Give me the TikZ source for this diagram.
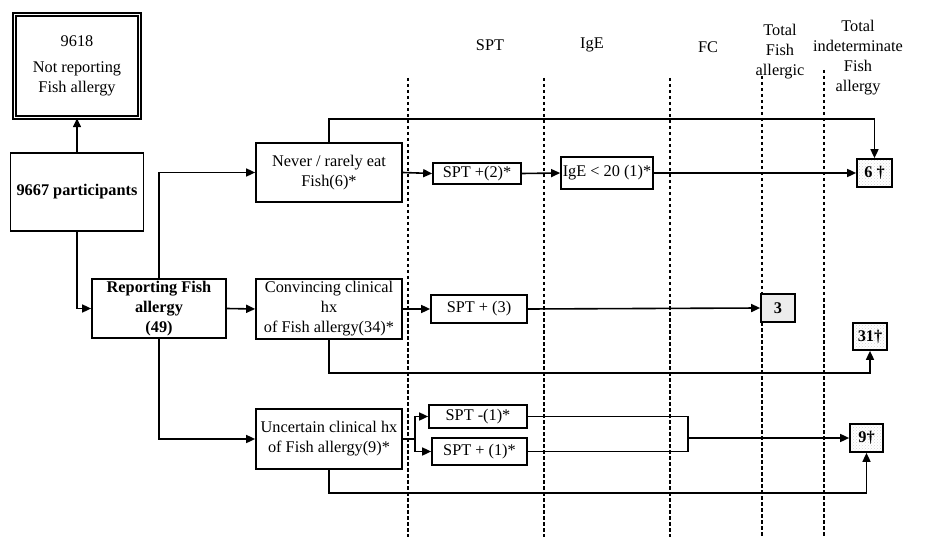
\documentclass[tikz,border=0pt]{standalone}
\usepackage{fontspec}
\setmainfont{Liberation Serif}
\usetikzlibrary{arrows.meta,patterns}
\begin{document}
\begin{tikzpicture}[x=1pt,y=-1pt,
  every node/.style={font=\fontsize{16.3}{20}\selectfont},
  box/.style={draw,line width=1.7pt,rectangle,inner sep=0pt,align=center},
  res/.style={box,pattern=crosshatch dots,pattern color=gray!35,font=\fontsize{16.3}{20}\selectfont\bfseries},
  conn/.style={line width=1.6pt},
  arr/.style={conn,-{Triangle[length=9pt,width=8pt]}},
  col/.style={line width=1.6pt,dash pattern=on 3.5pt off 2.5pt},
  hdr/.style={align=center,inner sep=0pt}]
\useasboundingbox (0,0) rectangle (934,537);
% column separators
\draw[col] (408,78) -- (408,537);
\draw[col] (544,78) -- (544,537);
\draw[col] (670,78) -- (670,537);
\draw[col] (762,76) -- (762,537);
\draw[col] (824,70) -- (824,537);
% headers
\node[hdr] (hspt) at (490,45) {SPT};
\node[hdr] (hige) at (592,45) {IgE};
\node[hdr] (hfc) at (708,47) {FC};
\node[hdr] (htot) at (780,52) {Total\\Fish\\allergic};
\node[hdr] (hind) at (858,58) {Total\\indeterminate\\Fish\\allergy};
% boxes
\node[box,double,double distance=1.8pt,line width=1.5pt,minimum width=125pt,minimum height=103pt] (n9618) at (77,66) {9618\\[6pt]Not reporting\\Fish allergy};
\node[box,minimum width=133pt,minimum height=78pt,font=\fontsize{16.3}{20}\selectfont\bfseries] (n9667) at (77,192) {9667 participants};
\node[box,minimum width=134pt,minimum height=59pt,font=\fontsize{16.3}{20}\selectfont\bfseries] (report) at (159,308.5) {Reporting Fish\\allergy\\(49)};
\node[box,minimum width=146pt,minimum height=59pt] (never) at (329,172.5) {Never / rarely eat\\Fish(6)*};
\node[box,minimum width=146pt,minimum height=60pt] (conv) at (329,309) {Convincing clinical\\hx\\of Fish allergy(34)*};
\node[box,minimum width=146pt,minimum height=60pt] (unc) at (329,439) {Uncertain clinical hx\\of Fish allergy(9)*};
\node[box,minimum width=88pt,minimum height=21pt] (spt2) at (477,173.5) {SPT +(2)*};
\node[box,minimum width=92pt,minimum height=32pt] (ige) at (607,173) {IgE < 20 (1)*};
\node[box,minimum width=96pt,minimum height=28pt] (spt3) at (479,309) {SPT + (3)};
\node[box,minimum width=98pt,minimum height=23pt] (sptm) at (478,416.5) {SPT -(1)*};
\node[box,minimum width=95pt,minimum height=27pt] (sptp) at (479.5,451.5) {SPT + (1)*};
\node[box,fill=gray!15,minimum width=34pt,minimum height=28pt,font=\fontsize{16.3}{20}\selectfont\bfseries] (r3) at (778,308) {3};
\node[res,minimum width=35pt,minimum height=28pt] (r6) at (874.5,173) {6 †};
\node[res,minimum width=34pt,minimum height=27pt] (r31) at (870,336.5) {31†};
\node[res,minimum width=33pt,minimum height=28pt] (r9) at (866.5,438) {9†};
% helper coordinates
\coordinate (ytop) at (0,119);
\coordinate (yconv) at (0,373);
\coordinate (yunc) at (0,493);
\coordinate (sp) at (415,439);
\coordinate (mg) at (688,438);
% connectors
\draw[arr] (n9667.north) -- (n9618.south);
\draw[arr] (n9667.south) |- (report.west);
\draw[arr] (report.north) |- (never.west);
\draw[arr] (report.east) -- (conv.west);
\draw[arr] (report.south) |- (unc.west);
\draw[arr] (never.east) -- (spt2.west);
\draw[arr] (spt2.east) -- (ige.west);
\draw[arr] (ige.east) -- (r6.west);
\draw[arr] (never.north) -- (never.north |- ytop) -| (r6.north);
\draw[arr] (conv.east) -- (spt3.west);
\draw[arr] (spt3.east) -- (r3.west);
\draw[arr] (conv.south) -- (conv.south |- yconv) -| (r31.south);
\draw[conn] (unc.east) -- (sp);
\draw[arr] (sp) |- (sptm.west);
\draw[arr] (sp) |- (sptp.west);
\draw[conn] (sptm.east) -| (mg);
\draw[conn] (sptp.east) -| (mg);
\draw[arr] (mg) -- (r9.west);
\draw[arr] (unc.south) -- (unc.south |- yunc) -| (r9.south);
\end{tikzpicture}
\end{document}
